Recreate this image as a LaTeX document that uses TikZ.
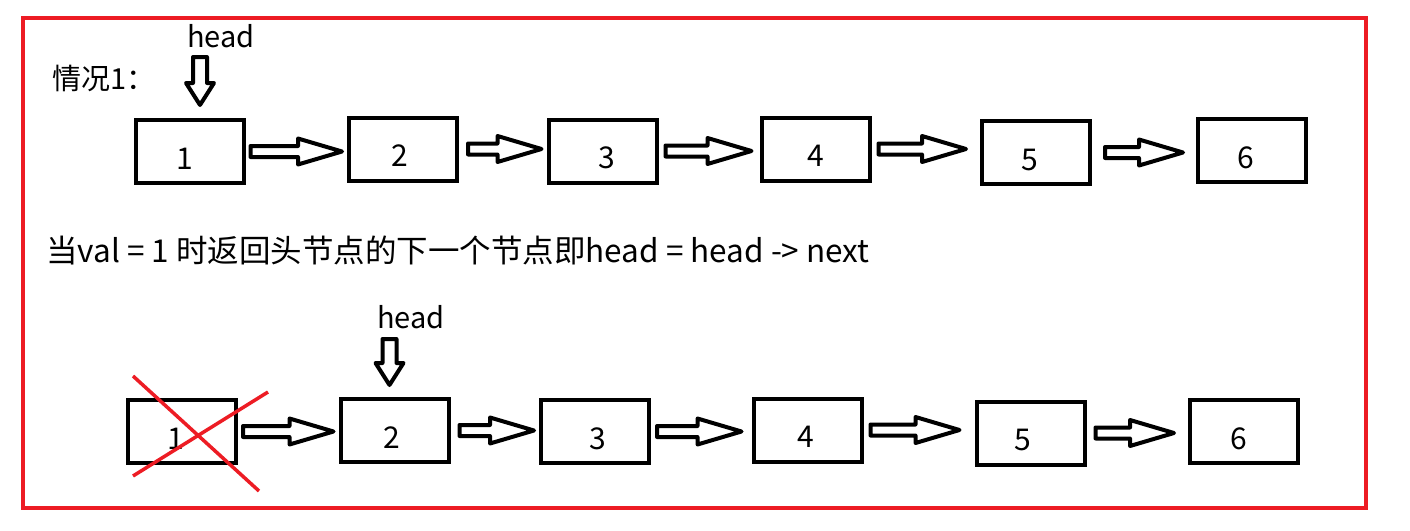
\documentclass[tikz,border=0pt]{standalone}
\usepackage{fontspec}
\setmainfont{Noto Sans CJK SC}
\usetikzlibrary{calc}
\definecolor{pred}{HTML}{ED1C24}
\newcommand\blockarr[4]{%
  \draw[blk] let \p1=($(#1.east)+(#3,0)$), \p2=($(#2.west)-(#4,0)$) in
   (\x1,\y1+5.5pt) -- (\x2-44pt,\y1+5.5pt) -- (\x2-44pt,\y1+13pt) -- (\x2,\y1)
   -- (\x2-44pt,\y1-13pt) -- (\x2-44pt,\y1-5.5pt) -- (\x1,\y1-5.5pt) -- cycle;}
\newcommand\downarr[2]{%
  \draw[blk] let \p1=(#1), \p2=(#2) in
   (\x1-7pt,\y1) -- (\x1+7pt,\y1) -- (\x1+7pt,\y2+22pt) -- (\x1+14pt,\y2+22pt)
   -- (\x1,\y2) -- (\x1-14pt,\y2+22pt) -- (\x1-7pt,\y2+22pt) -- cycle;}
\begin{document}
\begin{tikzpicture}[x=1pt,y=-1pt,
  box/.style={draw=black,line width=4pt,minimum width=108pt,minimum height=63pt,
    inner sep=0pt,font=\fontsize{30}{30}\selectfont,text height=35pt,text depth=0pt,
    text width=100pt,align=center},
  blk/.style={draw=black,line width=4pt,line join=round,fill=white},
  lbl/.style={inner sep=0pt,font=\fontsize{29}{34}\selectfont},
  cross/.style={draw=pred,line width=3.5pt},
  frame/.style={draw=pred,line width=4pt}]
\useasboundingbox (0,0) rectangle (1410,530);
\fill[white] (0,0) rectangle (1410,530);
\draw[frame] (22.5,17.5) rectangle (1365.5,508);

% texts
\node[lbl,anchor=west] (case) at (52,78) {情况1：};
\node[lbl] (head1) at (221,36) {head};
\node[lbl,anchor=west,font=\fontsize{31.5}{36}\selectfont] (desc) at (46,250) {当val = 1 时返回头节点的下一个节点即head = head -> next};
\node[lbl] (head2) at (411,317) {head};

% row 1
\node[box] (b1) at (189.5,151.5) {\hspace*{-9pt}1};
\node[box] (b2) at (403,149) {\hspace*{-6pt}2};
\node[box] (b3) at (602.5,151) {\hspace*{8pt}3};
\node[box] (b4) at (815.5,149) {4};
\node[box] (b5) at (1036,152.5) {\hspace*{-12pt}5};
\node[box] (b6) at (1252,150.5) {\hspace*{-12pt}6};
% row 2
\node[box] (c1) at (182,431.5) {\hspace*{-12pt}1};
\node[box] (c2) at (394.5,430.5) {\hspace*{-6pt}2};
\node[box] (c3) at (595,431.5) {\hspace*{6pt}3};
\node[box] (c4) at (807.5,430) {\hspace*{-3pt}4};
\node[box] (c5) at (1030.5,433) {\hspace*{-16pt}5};
\node[box] (c6) at (1244,431.5) {\hspace*{-10pt}6};

\blockarr{b1}{b2}{5}{5}
\blockarr{b2}{b3}{9}{5}
\blockarr{b3}{b4}{7}{8}
\blockarr{b4}{b5}{7}{14}
\blockarr{b5}{b6}{13}{13}
\blockarr{c1}{c2}{5}{5}
\blockarr{c2}{c3}{9}{5}
\blockarr{c3}{c4}{6}{10}
\blockarr{c4}{c5}{7}{15}
\blockarr{c5}{c6}{9}{14}

% head pointers
\coordinate (h1top) at (200,57);
\coordinate (h1tip) at (200,105);
\coordinate (h2top) at (389.5,339);
\coordinate (h2tip) at (389.5,385);
\downarr{h1top}{h1tip}
\downarr{h2top}{h2tip}

% red cross
\coordinate (x1a) at (133,376);
\coordinate (x1b) at (259,491);
\coordinate (x2a) at (133,476);
\coordinate (x2b) at (268,392);
\draw[cross] (x1a) -- (x1b);
\draw[cross] (x2a) -- (x2b);
\end{tikzpicture}
\end{document}
